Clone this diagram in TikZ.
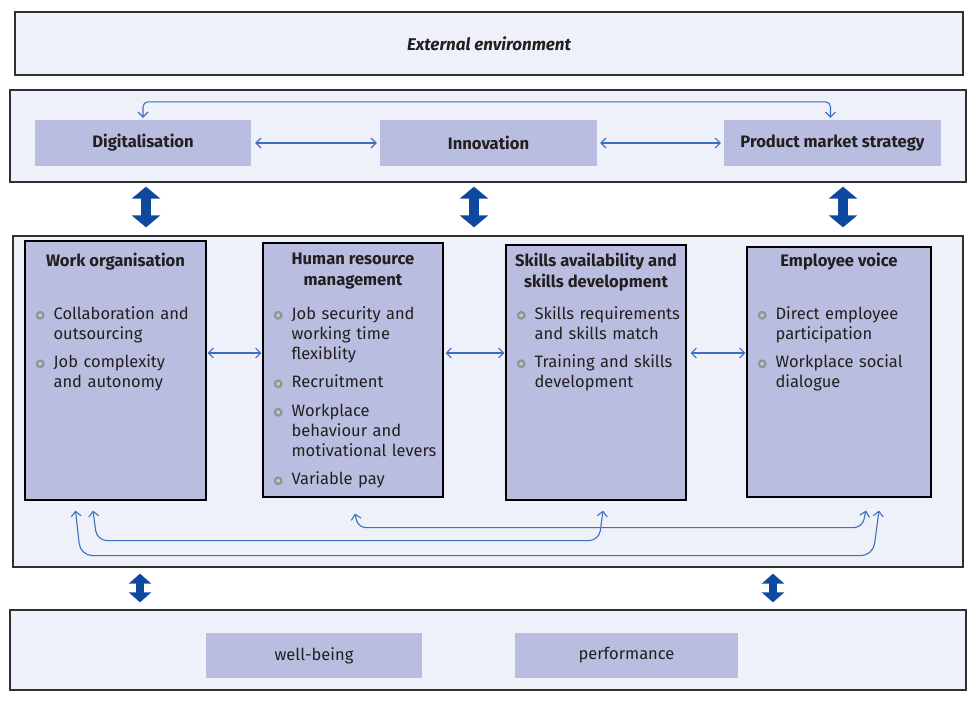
\documentclass[tikz,border=0pt]{standalone}
\usepackage{fontspec}
\setmainfont{Fira Sans}
\usetikzlibrary{positioning,calc,arrows.meta}

\definecolor{panelbg}{HTML}{EEF1F9}
\definecolor{boxfill}{HTML}{B9BEE0}
\definecolor{linkblue}{HTML}{3B6FC0}
\definecolor{bigblue}{HTML}{0D4A9F}
\definecolor{inktext}{HTML}{231F20}
\definecolor{framegray}{HTML}{303030}

\newcommand\ringdot{\tikz[baseline=-0.45ex]\draw[gray!85,fill=gray!45,line width=2.2pt] (0,0) circle (3.3pt);}
\newcommand\pitem[1]{\par\noindent\llap{\ringdot\hspace{9pt}}#1}
\newcommand\pgap{\par\vspace{8.5pt}}

\begin{document}
\begin{tikzpicture}[x=1pt,y=-1pt,
    font=\fontsize{16.5}{20}\selectfont, text=inktext,
    panel/.style={draw=framegray, line width=1.3pt, fill=panelbg, inner sep=0pt},
    factor/.style={fill=boxfill, inner sep=0pt, font=\bfseries\fontsize{16.6}{18}\selectfont},
    outcome/.style={fill=boxfill, inner sep=0pt},
    area/.style={draw=black, line width=1.2pt, fill=boxfill, inner sep=0pt},
    areatitle/.style={anchor=north, align=center, inner sep=0pt, font=\bfseries\fontsize{16.6}{21}\selectfont},
    arealist/.style={anchor=north west, text width=170pt, align=left, inner sep=0pt},
    link/.style={linkblue, line width=1.1pt,
      {Straight Barb[length=5pt,width=10pt]}-{Straight Barb[length=5pt,width=10pt]}},
    bigarrow/.style={bigblue, line width=10pt,
      {Triangle[width=28pt,length=12pt]}-{Triangle[width=28pt,length=12pt]}},
    smallarrow/.style={bigblue, line width=8pt,
      {Triangle[width=22pt,length=10pt]}-{Triangle[width=22pt,length=10pt]}}]

\useasboundingbox[fill=white] (0,0) rectangle (980,701);

% outer panels
\node[panel, minimum width=948pt, minimum height=63pt] (ext) at (489,43.5)
  {\bfseries\itshape\fontsize{17}{20}\selectfont External environment};
\node[panel, minimum width=956pt, minimum height=92pt] (toppanel) at (488,136) {};
\node[panel, minimum width=950pt, minimum height=331pt] (midpanel) at (488,401.5) {};
\node[panel, minimum width=956pt, minimum height=80pt] (botpanel) at (488,650) {};

% drivers
\node[factor, minimum width=216pt, minimum height=46pt] (dig) at (143,143) {Digitalisation};
\node[factor, minimum width=217pt, minimum height=46pt] (inn) at (488.5,143) {Innovation};
\node[factor, minimum width=217pt, minimum height=46pt] (pms) at (832.5,143) {Product market strategy};

\draw[link, shorten <=4pt, shorten >=3pt] (dig.east) -- (inn.west);
\draw[link, shorten <=3pt, shorten >=3pt] (inn.east) -- (pms.west);
\draw[link, rounded corners=5pt, shorten <=2pt, shorten >=2pt]
  (dig.north) -- ++(0,-18) -| ([xshift=-2pt]pms.north);

% workplace practices
\node[area, minimum width=181pt, minimum height=259pt] (wo) at (115.5,370.5) {};
\node[area, minimum width=180pt, minimum height=254pt] (hrm) at (353,370) {};
\node[area, minimum width=180pt, minimum height=255pt] (ska) at (596,372.5) {};
\node[area, minimum width=184pt, minimum height=250pt] (emv) at (839,372) {};

\coordinate (titlerow) at (0,253);
\coordinate (listrow) at (0,299);
\coordinate (linkrow) at (0,353);

\node[areatitle] (wo-t) at (wo.north |- titlerow) {Work organisation};
\node[areatitle] (hrm-t) at (hrm.north |- titlerow) {Human resource\\management};
\node[areatitle] (ska-t) at (ska.north |- titlerow) {Skills availability and\\skills development};
\node[areatitle] (emv-t) at (emv.north |- titlerow) {Employee voice};

\node[arealist] (wo-l) at ([xshift=29pt]wo.west |- listrow)
  {\pitem{Collaboration and\\outsourcing}\pgap
   \pitem{Job complexity\\and autonomy}};
\node[arealist] (hrm-l) at ([xshift=29pt]hrm.west |- listrow)
  {\pitem{Job security and\\working time\\flexiblity}\pgap
   \pitem{Recruitment}\pgap
   \pitem{Workplace\\behaviour and\\motivational levers}\pgap
   \pitem{Variable pay}};
\node[arealist] (ska-l) at ([xshift=29pt]ska.west |- listrow)
  {\pitem{Skills requirements\\and skills match}\pgap
   \pitem{Training and skills\\development}};
\node[arealist] (emv-l) at ([xshift=29pt]emv.west |- listrow)
  {\pitem{Direct employee\\participation}\pgap
   \pitem{Workplace social\\dialogue}};

\draw[link, shorten <=1pt, shorten >=1pt] (wo.east |- linkrow) -- (hrm.west |- linkrow);
\draw[link, shorten <=2pt, shorten >=1pt] (hrm.east |- linkrow) -- (ska.west |- linkrow);
\draw[link, shorten <=4pt, shorten >=1pt] (ska.east |- linkrow) -- (emv.west |- linkrow);

% feedback loops under the boxes
\draw[link, rounded corners=12pt]
  ($(wo.south)+(-40,10)$) -- ($(wo.south)+(-35,55)$)
  -- ($(emv.south)+(34,58)$) -- ($(emv.south)+(40,13)$);
\draw[link, rounded corners=10pt]
  ($(wo.south)+(-22.5,10)$) -- ($(wo.south)+(-18.5,40)$)
  -- ($(ska.south)+(3,40)$) -- ($(ska.south)+(7,10)$);
\draw[link, rounded corners=8pt]
  ($(hrm.south)+(2,16)$) -- ($(hrm.south)+(5,30)$)
  -- ($(emv.south)+(23,30)$) -- ($(emv.south)+(27,13)$);

% outcomes
\node[outcome, minimum width=216pt, minimum height=45pt] (wb) at (314,655.5) {well-being};
\node[outcome, minimum width=223pt, minimum height=45pt] (perf) at (626.5,655.5) {performance};

% links between the levels
\foreach \ax [count=\i] in {146,474,843}
  \coordinate (up\i) at (\ax,0);
\foreach \i in {1,2,3}
  \draw[bigarrow, shorten <=4pt, shorten >=8pt] (toppanel.south -| up\i) -- (midpanel.north -| up\i);
\coordinate (down1) at (140,0);
\coordinate (down2) at (773,0);
\foreach \i in {1,2}
  \draw[smallarrow, shorten <=6pt, shorten >=7pt] (midpanel.south -| down\i) -- (botpanel.north -| down\i);

\end{tikzpicture}
\end{document}
